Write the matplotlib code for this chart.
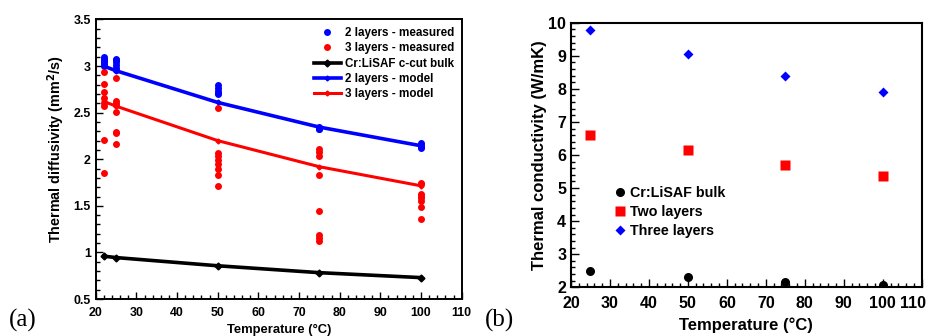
import matplotlib
matplotlib.use("Agg")
import matplotlib.pyplot as plt
from matplotlib.ticker import MultipleLocator, FormatStrFormatter, FuncFormatter
import numpy as np

plt.rcParams['font.family'] = ['Liberation Sans', 'DejaVu Sans']
plt.rcParams['font.weight'] = 'bold'

# ---------------- Panel (a) data ----------------
temps_a = [22, 25, 50, 75, 100]
meas2 = {
    22: [3.10, 3.08, 3.06, 3.04, 3.02, 3.00],
    25: [3.08, 3.06, 3.04, 3.01, 2.98, 2.96],
    50: [2.80, 2.76, 2.73, 2.71, 2.70],
    75: [2.35, 2.33, 2.32],
    100: [2.17, 2.15, 2.13, 2.12],
}
meas3 = {
    22: [2.94, 2.81, 2.72, 2.66, 2.60, 2.57, 2.21, 1.85],
    25: [2.87, 2.62, 2.60, 2.58, 2.51, 2.29, 2.28, 2.16],
    50: [2.55, 2.07, 2.03, 1.99, 1.95, 1.90, 1.83, 1.71],
    75: [2.11, 2.08, 2.04, 1.83, 1.44, 1.19, 1.15, 1.12],
    100: [1.75, 1.73, 1.63, 1.61, 1.58, 1.55, 1.49, 1.36],
}
bulk_model = [0.96, 0.945, 0.857, 0.783, 0.73]
model2 = [3.00, 2.95, 2.61, 2.345, 2.145]
model3 = [2.62, 2.57, 2.20, 1.92, 1.715]

# ---------------- Panel (b) data ----------------
temps_b = [25, 50, 75, 100]
k_bulk = [2.50, 2.32, 2.17, 2.06]
k_two = [6.62, 6.14, 5.71, 5.38]
k_three = [9.79, 9.06, 8.40, 7.90]

fig = plt.figure(figsize=(9.31, 3.36), dpi=100)

# ---------- (a) ----------
ax1 = fig.add_axes([0.1028, 0.110, 0.3931, 0.832])
x2 = [t for t in temps_a for _ in meas2[t]]
y2 = [v for t in temps_a for v in meas2[t]]
x3 = [t for t in temps_a for _ in meas3[t]]
y3 = [v for t in temps_a for v in meas3[t]]
ax1.plot(x2, y2, 'o', color='#0000ff', ms=5, mec='none', label='2 layers - measured', zorder=3)
ax1.plot(x3, y3, 'o', color='#ff0000', ms=5, mec='none', label='3 layers - measured', zorder=3)
ax1.plot(temps_a, bulk_model, '-D', color='black', lw=2.6, ms=3.5, label='Cr:LiSAF c-cut bulk', zorder=4)
ax1.plot(temps_a, model2, '-D', color='#0000ff', lw=2.6, ms=2.5, label='2 layers - model', zorder=4)
ax1.plot(temps_a, model3, '-D', color='#ff0000', lw=2.2, ms=2.5, label='3 layers - model', zorder=4)
ax1.set_xlim(20, 110)
ax1.set_ylim(0.5, 3.5)
ax1.xaxis.set_major_locator(MultipleLocator(10))
ax1.xaxis.set_minor_locator(MultipleLocator(2))
ax1.yaxis.set_major_locator(MultipleLocator(0.5))
ax1.yaxis.set_minor_locator(MultipleLocator(0.1))
ax1.yaxis.set_major_formatter(FormatStrFormatter('%g'))
ax1.tick_params(which='both', direction='in', top=False, right=False, labelsize=8.9, pad=3.5)
ax1.tick_params(which='major', length=5, width=1.0)
ax1.tick_params(which='minor', length=2.8, width=1.0)
ax1.tick_params(axis='x', pad=5.5)
for s in ax1.spines.values():
    s.set_linewidth(1.4)
ax1.set_xlabel('Temperature (°C)', fontsize=9.4, fontweight='bold', labelpad=4)
ax1.set_ylabel('Thermal diffusivity (mm$^{\\mathbf{2}}$/s)', fontsize=10.4, fontweight='bold')
ax1.yaxis.set_label_coords(-0.078, 0.538)
leg1 = ax1.legend(loc='upper right', bbox_to_anchor=(1.0, 1.0), frameon=False,
                  prop={'size': 8.4, 'weight': 'bold'}, handlelength=2.3, handletextpad=0.35,
                  labelspacing=0.28, borderaxespad=0.2, borderpad=0.45)

# ---------- (b) ----------
ax2 = fig.add_axes([0.6133, 0.1449, 0.3767, 0.7875])
ax2.plot(temps_b, k_bulk, 'o', color='black', ms=6.5, mec='none', label='Cr:LiSAF bulk')
ax2.plot(temps_b, k_two, 's', color='#ff0000', ms=7, mec='none', label='Two layers')
ax2.plot(temps_b, k_three, 'D', color='#0000ff', ms=5.2, mec='none', label='Three layers')
ax2.set_xlim(20, 110)
ax2.set_ylim(2, 10)
ax2.xaxis.set_major_locator(MultipleLocator(10))
ax2.xaxis.set_minor_locator(MultipleLocator(2))
ax2.yaxis.set_major_locator(MultipleLocator(1))
ax2.yaxis.set_minor_locator(MultipleLocator(0.2))
XMAX_B = 110
# the last label (110) is drawn shifted left so it stays inside the figure, as in the reference
ax2.xaxis.set_major_formatter(FuncFormatter(lambda v, p: '' if abs(v - XMAX_B) < 1e-6 else '%g' % v))
ax2.tick_params(which='both', direction='in', top=False, right=False, labelsize=11.5, pad=3.5)
ax2.tick_params(which='major', length=5.5, width=1.0)
ax2.tick_params(which='minor', length=2.8, width=1.0)
ax2.tick_params(axis='x', pad=6.5)
ax2.annotate('%g' % XMAX_B, xy=(XMAX_B, 0), xycoords=('data', 'axes fraction'),
             xytext=(-6.5, -6.5), textcoords='offset points', ha='center', va='top',
             fontsize=11.5, fontweight='bold', annotation_clip=False)
for s in ax2.spines.values():
    s.set_linewidth(1.5)
ax2.set_xlabel('Temperature (°C)', fontsize=12, fontweight='bold', labelpad=4.5)
ax2.set_ylabel('Thermal conductivity (W/mK)', fontsize=12, fontweight='bold', labelpad=1)
leg2 = ax2.legend(loc='center left', bbox_to_anchor=(0.095, 0.285), frameon=False,
                  prop={'size': 10.3, 'weight': 'bold'}, handlelength=0.8, handletextpad=0.3,
                  labelspacing=0.35, borderpad=0.2)

fig.text(0.010, 0.028, '(a)', fontsize=18, family=['Liberation Serif', 'DejaVu Serif'], fontweight='normal')
fig.text(0.521, 0.028, '(b)', fontsize=18, family=['Liberation Serif', 'DejaVu Serif'], fontweight='normal')

fig.savefig('out.png', dpi=100)
